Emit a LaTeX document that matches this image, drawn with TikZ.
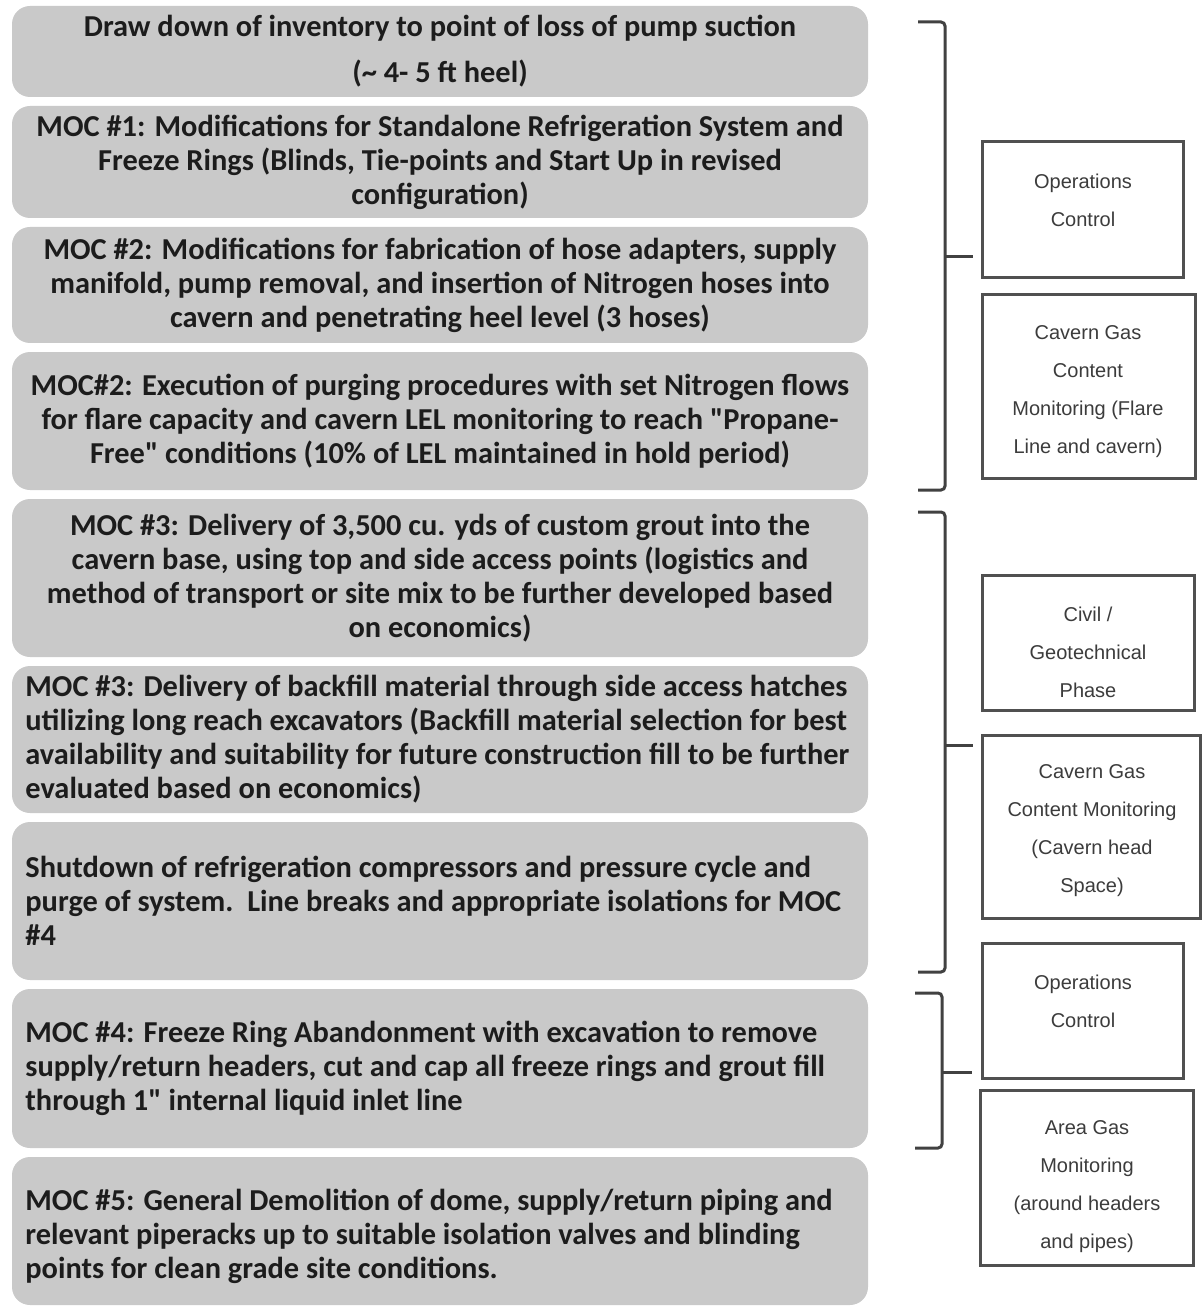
\documentclass[tikz,border=0pt]{standalone}
\usepackage{fontspec}
\setmainfont{Carlito}[Ligatures=TeXOff]
\newfontfamily\arialf{Liberation Sans}
\definecolor{boxfill}{RGB}{201,201,201}
\definecolor{txt}{RGB}{28,28,28}
\definecolor{rline}{RGB}{80,80,80}
\definecolor{rtxt}{RGB}{60,60,60}
\definecolor{brk}{RGB}{65,65,65}
\begin{document}
\begin{tikzpicture}[x=0.5pt,y=-0.5pt,
  lbox/.style={fill=boxfill, draw=none, rounded corners=9pt, minimum width=428pt,
    inner xsep=0pt, inner ysep=0pt},
  ltxt/.style={inner sep=0pt, text=txt, font=\bfseries\fontsize{15.2}{17}\selectfont},
  lc/.style={ltxt, align=center},
  ll/.style={ltxt, align=flush left, anchor=west},
  rbox/.style={draw=rline, line width=1.5pt, fill=white, inner sep=0pt},
  rtext/.style={align=center, text=rtxt, inner sep=0pt, font=\arialf\fontsize{10}{19}\selectfont},
  brace/.style={draw=brk, line width=1.5pt, rounded corners=2pt}]
\useasboundingbox (0,0) rectangle (1202,1310);
% left boxes
\node[lbox, minimum height=45.5pt] (b1) at (440,51.5) {};
\node[lc, font=\bfseries\fontsize{15.2}{23}\selectfont] (t1) at (b1)
  {Draw down of inventory to point of loss of pump suction\\(\textasciitilde{} 4- 5 ft heel)};
\node[lbox, minimum height=56pt] (b2) at (440,162) {};
\node[lc] (t2) at (b2)
  {MOC \#1: Modifications for Standalone Refrigeration System and\\Freeze Rings (Blinds, Tie-points and Start Up in revised\\configuration)};
\node[lbox, minimum height=58pt] (b3) at (440,285) {};
\node[lc] (t3) at (b3)
  {MOC \#2: Modifications for fabrication of hose adapters, supply\\manifold, pump removal, and insertion of Nitrogen hoses into\\cavern and penetrating heel level (3 hoses)};
\node[lbox, minimum height=69pt] (b4) at (440,421) {};
\node[lc] (t4) at (b4)
  {MOC\#2: Execution of purging procedures with set Nitrogen flows\\for flare capacity and cavern LEL monitoring to reach "Propane-\\Free" conditions (10\% of LEL maintained in hold period)};
\node[lbox, minimum height=79pt] (b5) at (440,578) {};
\node[lc] (t5) at (b5)
  {MOC \#3: Delivery of 3,500 cu. yds of custom grout into the\\cavern base, using top and side access points (logistics and\\method of transport or site mix to be further developed based\\on economics)};
\node[lbox, minimum height=73.5pt] (b6) at (440,739.5) {};
\node[ll] (t6) at (25,739.5)
  {MOC \#3: Delivery of backfill material through side access hatches\\utilizing long reach excavators (Backfill material selection for best\\availability and suitability for future construction fill to be further\\evaluated based on economics)};
\node[lbox, minimum height=79pt] (b7) at (440,901) {};
\node[ll] (t7) at (25,901)
  {Shutdown of refrigeration compressors and pressure cycle and\\purge of system.\ \ Line breaks and appropriate isolations for MOC\\\#4};
\node[lbox, minimum height=79.5pt] (b8) at (440,1068.5) {};
\node[ll] (t8) at (25,1068)
  {MOC \#4: Freeze Ring Abandonment with excavation to remove\\supply/return headers, cut and cap all freeze rings and grout fill\\through 1" internal liquid inlet line};
\node[lbox, minimum height=74pt] (b9) at (440,1231) {};
\node[ll] (t9) at (25,1236)
  {MOC \#5: General Demolition of dome, supply/return piping and\\relevant piperacks up to suitable isolation valves and blinding\\points for clean grade site conditions.};
% right boxes
\node[rbox, minimum width=100.5pt, minimum height=68pt] (r1) at (1082.5,210) {};
\node[rtext] (r1t) at (1083,200) {Operations\\Control};
\node[rbox, minimum width=106.5pt, minimum height=91.5pt] (r2) at (1088.5,386.5) {};
\node[rtext] (r2t) at (1088,392) {Cavern Gas\\Content\\Monitoring (Flare\\Line and cavern)};
\node[rbox, minimum width=106pt, minimum height=67.5pt] (r3) at (1088,642.5) {};
\node[rtext] (r3t) at (1088,652) {Civil /\\Geotechnical\\Phase};
\node[rbox, minimum width=109pt, minimum height=91.5pt] (r4) at (1091,826.5) {};
\node[rtext] (r4t) at (1092,831) {Cavern Gas\\Content Monitoring\\(Cavern head\\Space)};
\node[rbox, minimum width=100.5pt, minimum height=67.5pt] (r5) at (1082.5,1010.5) {};
\node[rtext] (r5t) at (1083,1001) {Operations\\Control};
\node[rbox, minimum width=106.5pt, minimum height=87.5pt] (r6) at (1086.5,1177.5) {};
\node[rtext] (r6t) at (1087,1187) {Area Gas\\Monitoring\\(around headers\\and pipes)};
% braces
\coordinate (k1a) at (918,22); \coordinate (k1b) at (945,22);
\coordinate (k1c) at (945,490); \coordinate (k1d) at (918,490);
\coordinate (k1m) at (945,257); \coordinate (k1e) at (973,257);
\draw[brace] (k1a) -- (k1b) -- (k1c) -- (k1d);
\draw[brace] (k1m) -- (k1e);
\coordinate (k2a) at (918,512); \coordinate (k2b) at (945,512);
\coordinate (k2c) at (945,972); \coordinate (k2d) at (918,972);
\coordinate (k2m) at (945,745); \coordinate (k2e) at (973,745);
\draw[brace] (k2a) -- (k2b) -- (k2c) -- (k2d);
\draw[brace] (k2m) -- (k2e);
\coordinate (k3a) at (915,993); \coordinate (k3b) at (942,993);
\coordinate (k3c) at (942,1148); \coordinate (k3d) at (915,1148);
\coordinate (k3m) at (942,1072); \coordinate (k3e) at (972,1072);
\draw[brace] (k3a) -- (k3b) -- (k3c) -- (k3d);
\draw[brace] (k3m) -- (k3e);
\end{tikzpicture}
\end{document}
